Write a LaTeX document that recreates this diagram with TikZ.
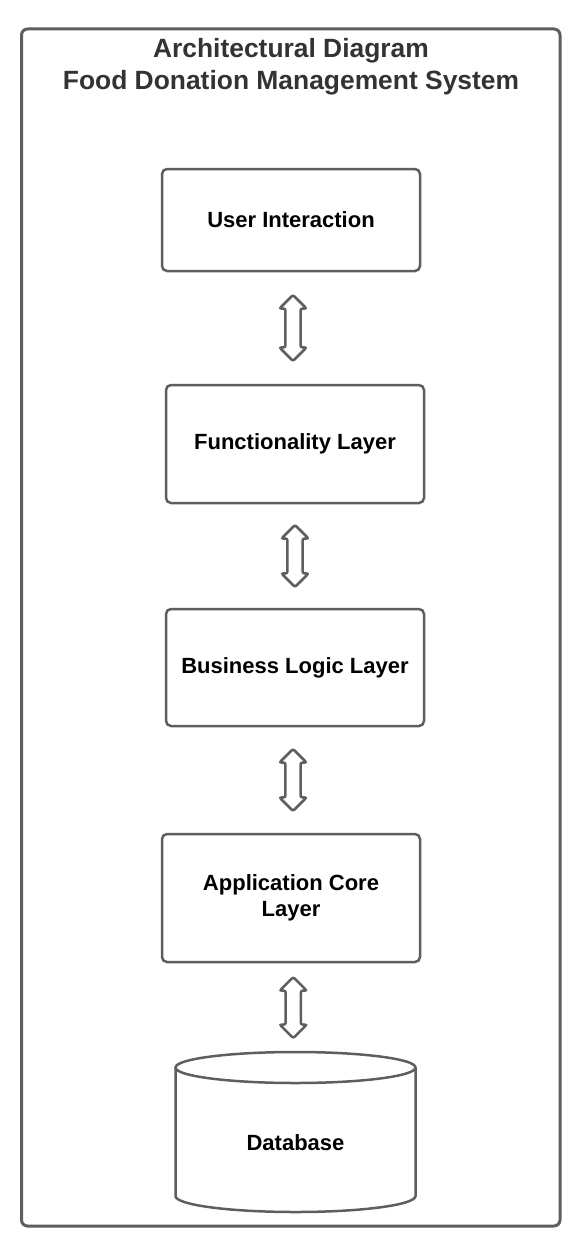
\documentclass[tikz,border=0pt]{standalone}
\usepackage{fontspec}
\setmainfont{Liberation Sans}
\usetikzlibrary{shapes.arrows,calc}
\definecolor{framegray}{HTML}{5E5E5E}
\definecolor{titlegray}{HTML}{333333}
\begin{document}
\begin{tikzpicture}[x=1pt,y=-1pt,
		layer/.style={draw=framegray,line width=2.5pt,rounded corners=5pt,minimum width=258,inner sep=0pt,align=center,font=\bfseries\fontsize{22}{26}\selectfont},
		link/.style={double arrow,draw=framegray,fill=white,line width=2.5pt,rounded corners=2pt,rotate=90,inner sep=6.3pt,double arrow head extend=6pt,minimum height=64}]
	\useasboundingbox (0,0) rectangle (582,1255);
	\draw[framegray,line width=3pt,rounded corners=6pt] (21.5,29) rectangle (560,1226);
	\node[inner sep=0pt,align=center,text=titlegray,font=\bfseries\fontsize{26.4}{32}\selectfont] (title) at (291,66.4) {Architectural Diagram\\Food Donation Management System};
	% layers
	\node[layer,minimum height=102] (ui) at (291,220) {User Interaction};
	\node[layer,minimum height=118] (fl) at (295,444) {Functionality Layer};
	\node[layer,minimum height=117] (bl) at (295,667.5) {Business Logic Layer};
	\node[layer,minimum height=128] (ac) at (291,898) {Application Core\\Layer};
	% database
	\draw[framegray,line width=2.5pt] (175.5,1067.5) -- (175.5,1196) arc[start angle=180,end angle=0,x radius=120,y radius=16] -- (415.5,1067.5);
	\draw[framegray,line width=2.5pt] (295.5,1067.5) ellipse[x radius=120,y radius=15.5];
	\coordinate (dbtop) at (295.5,1052);
	\node[font=\bfseries\fontsize{22}{26}\selectfont] (db) at (295.5,1143) {Database};
	% arrows
	\node[link,minimum height=66] (a1) at ($(ui.south)!.5!(fl.north)$) {};
	\node[link,minimum height=62] (a2) at ($(fl.south)!.5!(bl.north)$) {};
	\node[link,minimum height=62] (a3) at ($(bl.south)!.5!(ac.north)$) {};
	\node[link,minimum height=61] (a4) at ($(ac.south)!.5!(dbtop)$) {};
\end{tikzpicture}
\end{document}
